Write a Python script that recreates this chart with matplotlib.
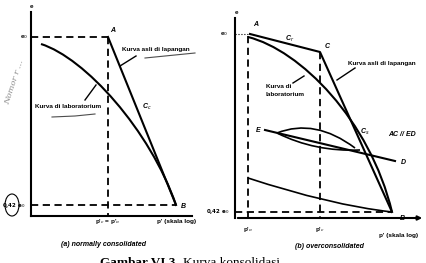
import numpy as np
import matplotlib.pyplot as plt
from matplotlib.patches import Ellipse, PathPatch
from matplotlib.path import Path

# Schematic consolidation curves, in picture units (x right, y down)
# (a) normally consolidated
a_axis_x, a_axis_y = 31, 216
a_A = (108, 37)
a_B = (176, 205)
# lab curve: start, two control points, end (cubic Bezier)
a_lab = [(41, 44), (85, 58), (150, 130), (176, 205)]

# (b) overconsolidated
b_axis_x, b_axis_y = 235, 218
b_A = (250, 34)
b_C = (320, 52)
b_B = (392, 212)
b_lab = [(248, 37), (300, 50), (370, 120), (392, 212)]
b_ED_x = [265, 395]
b_ED_y = [130, 161]
b_loop_up = [(277, 133), (315, 118), (355, 148)]
b_loop_lo = [(277, 133), (315, 152), (360, 150)]
b_low = [(248, 178), (330, 205), (392, 212)]
b_po_x = 248

fig = plt.figure(figsize=(4.27, 2.63), dpi=100)
ax = fig.add_axes([0, 0, 1, 1])
ax.set_xlim(0, 427)
ax.set_ylim(263, 0)
ax.axis('off')

k = 'black'
lw = 1.5
dash = dict(color=k, lw=1.3, ls=(0, (4, 2.5)))
lab = dict(fontsize=4.6, fontweight='bold', family='Liberation Sans', color=k)
ital = dict(fontsize=5, fontweight='bold', style='italic', family='Liberation Sans', color=k)


def bezier(pts, width):
    codes = [Path.MOVETO] + [Path.CURVE4 if len(pts) == 4 else Path.CURVE3] * (len(pts) - 1)
    ax.add_patch(PathPatch(Path(pts, codes), fill=False, ec=k, lw=width))


# ---- panel (a)
ax.plot([a_axis_x, a_axis_x], [a_axis_y, 12], color=k, lw=lw)
ax.plot([a_axis_x, 192], [a_axis_y, a_axis_y], color=k, lw=lw)
ax.text(32, 6, 'e', ha='center', va='center', **lab)
ax.plot([a_axis_x, a_A[0]], [a_A[1], a_A[1]], **dash)
ax.plot([a_A[0], a_A[0]], [a_A[1], a_axis_y], **dash)
ax.plot([a_axis_x, a_B[0]], [a_B[1], a_B[1]], **dash)
ax.plot([a_A[0], a_B[0]], [a_A[1], a_B[1]], color=k, lw=lw)
bezier(a_lab, lw)
ax.text(28, 37, r'e$_0$', ha='right', va='center', **lab)
ax.text(110, 30, 'A', ha='left', va='center', **ital)
ax.text(181, 206, 'B', ha='left', va='center', **ital)
ax.text(14, 205, '0,42 e$_0$', ha='center', va='center', fontsize=4, fontweight='bold', color=k)
ax.add_patch(Ellipse((12, 205), 14, 22, fill=False, ec=k, lw=0.8))
ax.text(122, 49, 'Kurva asli di lapangan', ha='left', va='center', **lab)
ax.plot([136, 120], [56, 66], color=k, lw=1)
ax.text(142, 107, r'C$_c$', ha='left', va='center', **ital)
ax.text(35, 107, 'Kurva di laboratorium', ha='left', va='center', **lab)
ax.plot([85, 96], [100, 85], color=k, lw=1)
ax.text(108, 221, r"p'$_c$ = p'$_o$", ha='center', va='center', **lab)
ax.text(157, 221, "p' (skala log)", ha='left', va='center', **lab)
ax.text(104, 245, '(a) normally consolidated', ha='center', va='center', **ital)
ax.plot([145, 165, 195], [58, 56, 53], color='0.3', lw=0.8)
ax.plot([52, 75, 95], [117, 116, 114], color='0.3', lw=0.8)
ax.text(14, 82, 'Nomor r ...', rotation=72, ha='center', va='center',
        fontsize=6, style='italic', color='0.55', family='DejaVu Serif')

# ---- panel (b)
ax.plot([b_axis_x, b_axis_x], [b_axis_y, 18], color=k, lw=lw)
ax.annotate('', xy=(425, b_axis_y), xytext=(b_axis_x, b_axis_y),
            arrowprops=dict(arrowstyle='-|>', color=k, lw=lw, mutation_scale=6))
ax.text(237, 12, 'e', ha='center', va='center', **lab)
ax.text(228, 34, r'e$_0$', ha='right', va='center', **lab)
ax.plot([b_axis_x, b_A[0]], [b_A[1], b_A[1]], color=k, lw=0.8, ls=':')
ax.plot([b_po_x, b_po_x], [b_A[1] + 2, b_axis_y], **dash)
ax.plot([b_C[0], b_C[0]], [b_C[1], b_axis_y], **dash)
ax.plot([b_axis_x, b_B[0]], [b_B[1], b_B[1]], **dash)
ax.plot([b_A[0], b_C[0], b_B[0]], [b_A[1], b_C[1], b_B[1]], color=k, lw=lw)
bezier(b_lab, lw)
ax.plot(b_ED_x, b_ED_y, color=k, lw=lw)
bezier(b_loop_up, 1.2)
bezier(b_loop_lo, 1.2)
bezier(b_low, 1.2)
ax.text(253, 25, 'A', ha='left', va='center', **ital)
ax.text(325, 46, 'C', ha='left', va='center', **ital)
ax.text(290, 39, r'C$_r$', ha='center', va='center', **ital)
ax.text(258, 130, 'E', ha='center', va='center', **ital)
ax.text(403, 162, 'D', ha='center', va='center', **ital)
ax.text(402, 218, 'B', ha='center', va='center', **ital)
ax.text(365, 132, r'C$_s$', ha='center', va='center', **ital)
ax.text(402, 135, 'AC // ED', ha='center', va='center', **ital)
ax.text(348, 63, 'Kurva asli di lapangan', ha='left', va='center', **lab)
ax.plot([355, 337], [68, 80], color=k, lw=1)
ax.text(266, 87, 'Kurva di', ha='left', va='center', **lab)
ax.text(266, 95, 'laboratorium', ha='left', va='center', **lab)
ax.plot([293, 304], [83, 76], color=k, lw=1)
ax.text(218, 212, '0,42 e$_0$', ha='center', va='center', fontsize=4, fontweight='bold', color=k)
ax.text(b_po_x, 229, r"p'$_o$", ha='center', va='center', **lab)
ax.text(b_C[0], 229, r"p'$_c$", ha='center', va='center', **lab)
ax.text(399, 236, "p' (skala log)", ha='center', va='center', **lab)
ax.text(329, 247, '(b) overconsolidated', ha='center', va='center', **ital)

# caption, cut off by the page edge as in the scan
ax.text(100, 257, 'Gambar VI.3', ha='left', va='top', fontsize=9.5,
        fontweight='bold', family='Liberation Serif', color=k)
ax.text(183, 257, 'Kurva konsolidasi', ha='left', va='top', fontsize=9.5,
        family='Liberation Serif', color=k)

fig.savefig('out.png', dpi=100)
